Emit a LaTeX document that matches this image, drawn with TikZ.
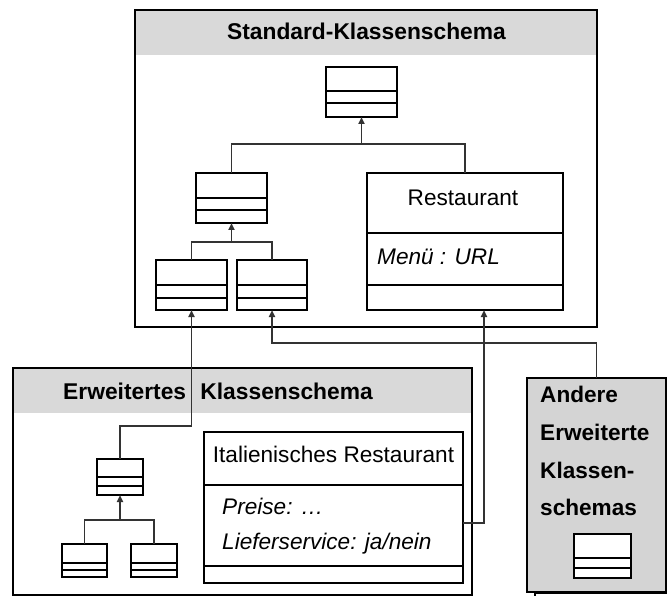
\documentclass[tikz,border=0pt]{standalone}
\usepackage{fontspec}
\setmainfont{Liberation Sans}
\usetikzlibrary{arrows.meta}
\definecolor{headgray}{HTML}{D9D9D9}
\definecolor{othergray}{HTML}{D4D4D4}
\definecolor{linkgray}{HTML}{333333}

% a small class symbol: name, x, y, width, height, first and second divider offsets
\newcommand\miniclass[7]{%
  \node[classbox, minimum width=#4pt, minimum height=#5pt] (#1) at (#2,#3) {};
  \draw[classline] ([yshift=-#6pt]#1.north west) -- ([yshift=-#6pt]#1.north east);
  \draw[classline] ([yshift=-#7pt]#1.north west) -- ([yshift=-#7pt]#1.north east);
}

\tikzset{
  classbox/.style={draw=black, line width=2pt, fill=white, rectangle,
    anchor=north west, inner sep=0pt, outer sep=0pt},
  classline/.style={draw=black, line width=2pt},
  framebox/.style={draw=black, line width=2pt, rectangle, anchor=north west,
    inner sep=0pt, outer sep=0pt},
  conn/.style={draw=linkgray, line width=1.8pt},
  inherit/.style={conn, -{Triangle[length=7pt,width=6pt]}},
  titletext/.style={font=\fontsize{22.8}{26}\selectfont\bfseries, anchor=base, inner sep=0pt},
  plaintext/.style={font=\fontsize{22.6}{26}\selectfont, anchor=base, inner sep=0pt},
  attrtext/.style={font=\fontsize{22.6}{26}\selectfont\itshape, anchor=base west, inner sep=0pt},
  othertext/.style={font=\fontsize{22.6}{26}\selectfont\bfseries, anchor=base west, inner sep=0pt},
}

\begin{document}
\begin{tikzpicture}[x=1pt, y=-1pt]
\useasboundingbox (0,0) rectangle (667,596);

% ---------- standard class schema ----------
\fill[headgray] (135,10) rectangle (597,55);
\node[framebox, minimum width=462pt, minimum height=317pt] (std) at (135,10) {};
\node[titletext] (stdtitle) at (366.5,39.5) {Standard-Klassenschema};

\miniclass{t1}{326}{67}{71}{50}{24}{36}
\miniclass{m1}{196}{173}{71}{50}{25}{37}
\miniclass{l1}{156}{260}{71}{50}{25}{38}
\miniclass{l2}{237}{260}{70}{50}{25}{38}

\node[classbox, minimum width=196pt, minimum height=137pt] (rest) at (367,173) {};
\draw[classline] ([yshift=-60pt]rest.north west) -- ([yshift=-60pt]rest.north east);
\draw[classline] ([yshift=-112pt]rest.north west) -- ([yshift=-112pt]rest.north east);
\node[plaintext] (resttitle) at (463,206) {Restaurant};
\node[attrtext] (restattr) at (377,265) {Menü : URL};

% inheritance inside the standard schema
\coordinate (j1) at (361.5,144);
\draw[conn] (m1.north) |- (j1);
\draw[conn] (rest.north) |- (j1);
\draw[inherit] (j1) -- (t1.south);

\coordinate (j2) at (231.5,242);
\draw[conn] (l1.north) |- (j2);
\draw[conn] (l2.north) |- (j2);
\draw[inherit] (j2) -- (m1.south);

% ---------- extended class schema ----------
\fill[headgray] (13,368) rectangle (472,413);
\node[framebox, minimum width=459pt, minimum height=227pt] (ext) at (13,368) {};
\node[titletext, anchor=base west] (exttitle) at (63,399) {Erweitertes\hspace{8pt} Klassenschema};

\miniclass{e1}{97}{459}{46}{36}{18}{27}
\miniclass{e2}{62}{544}{45}{33}{19}{26}
\miniclass{e3}{131}{544}{46}{33}{19}{26}

\coordinate (j3) at (120,520);
\draw[conn] (e2.north) |- (j3);
\draw[conn] (e3.north) |- (j3);
\draw[inherit] (j3) -- (e1.south);

\node[classbox, minimum width=259pt, minimum height=151pt] (ital) at (204,432) {};
\draw[classline] ([yshift=-53pt]ital.north west) -- ([yshift=-53pt]ital.north east);
\draw[classline] ([yshift=-134pt]ital.north west) -- ([yshift=-134pt]ital.north east);
\node[plaintext] (italtitle) at (333.5,462) {Italienisches Restaurant};
\node[attrtext] (italattr1) at (222,514) {Preise: …};
\node[attrtext] (italattr2) at (222,549) {Lieferservice: ja/nein};

% ---------- other extended schemas ----------
\draw[line width=1.4pt] (535,596) -- (535,593.5) -- (667,593.5);
\node[framebox, fill=othergray, minimum width=139pt, minimum height=214pt] (other) at (527,378) {};
\node[othertext] (oth1) at (540,402) {Andere};
\node[othertext] (oth2) at (540,440) {Erweiterte};
\node[othertext] (oth3) at (540,478) {Klassen-};
\node[othertext] (oth4) at (540,515) {schemas};
\miniclass{a1}{574}{534}{57}{44}{24}{34}

% ---------- links from the extensions to the standard schema ----------
\coordinate (k1) at (191.5,426);
\draw[inherit] (e1.north) |- (k1) -- (l1.south);

\coordinate (k2) at (272,343);
\draw[inherit] (other.north) |- (k2) -- (l2.south);

\coordinate (k3) at (484,523);
\draw[inherit] (ital.east |- k3) -- (k3) -- (rest.south -| k3);
\end{tikzpicture}
\end{document}
